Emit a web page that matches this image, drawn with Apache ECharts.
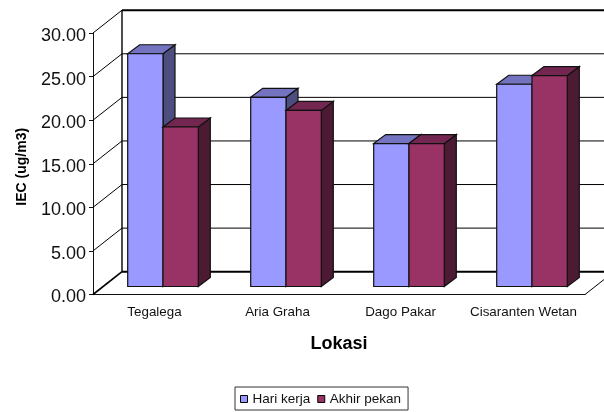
<!DOCTYPE html>
<html>
<head>
<meta charset="utf-8">
<style>
  html, body { margin: 0; padding: 0; background: #fff; }
  #chart { width: 604px; height: 412px; }
</style>
<script src="https://cdn.jsdelivr.net/npm/echarts@6/dist/echarts.min.js"></script>
</head>
<body>
<div id="chart"></div>
<script>
const categories = ['Tegalega', 'Aria Graha', 'Dago Pakar', 'Cisaranten Wetan'];
const hariKerja = [26.7, 21.7, 16.4, 23.2];
const akhirPekan = [18.3, 20.2, 16.4, 24.2];
const yTicks = [0, 5, 10, 15, 20, 25, 30];

const FONT = '"Liberation Sans", Arial, sans-serif';
// fake 3d: how far the back wall and the bars sit behind the axis plane
const WALL_DX = 29;
const WALL_DY = 22.8;
const BAR_DX = 8.5;
const BAR_DY = 8;
const BAR_W = 35.3;
const SIDE_DX = 12;
const SIDE_DY = 9;

const chart = echarts.init(document.getElementById('chart'));

const poly = (points, fill) => ({
  type: 'polygon',
  shape: { points },
  style: { fill, stroke: '#111', lineWidth: 1.2 },
});

const line = (x1, y1, x2, y2, width) => ({
  type: 'line',
  shape: { x1, y1, x2, y2 },
  style: { stroke: '#000', lineWidth: width },
});

const renderWall = (params, api) => {
  const v = api.value(1);
  const rect = params.coordSys;
  const y = api.coord([0, v])[1];
  const left = rect.x;
  const right = rect.x + rect.width;
  const children = [
    line(left, y, left + WALL_DX, y - WALL_DY, v === 0 ? 1.6 : 1),
    line(left + WALL_DX, y - WALL_DY, right + WALL_DX, y - WALL_DY, v === 0 || v === 30 ? 2 : 1),
  ];
  if (v === 0) {
    children.push(line(left + WALL_DX, y - WALL_DY, left + WALL_DX, rect.y - WALL_DY, 1.4));
    children.push(line(right, y, right + WALL_DX, y - WALL_DY, 1));
  }
  return { type: 'group', children };
};

const makeBars = (name, values, side, front, top, dark) => ({
  name,
  type: 'custom',
  clip: false,
  z: 3,
  itemStyle: { color: front },
  data: values.map((v, i) => [i, v]),
  encode: { x: 0, y: 1 },
  renderItem: (params, api) => {
    const c = api.coord([api.value(0), api.value(1)]);
    const b = api.coord([api.value(0), 0]);
    const x0 = c[0] + BAR_DX + (side < 0 ? -BAR_W : 0);
    const x1 = x0 + BAR_W;
    const y0 = c[1] - BAR_DY;
    const y1 = b[1] - BAR_DY;
    return {
      type: 'group',
      children: [
        poly([[x1, y0], [x1 + SIDE_DX, y0 - SIDE_DY], [x1 + SIDE_DX, y1 - SIDE_DY], [x1, y1]], dark),
        poly([[x0, y0], [x0 + SIDE_DX, y0 - SIDE_DY], [x1 + SIDE_DX, y0 - SIDE_DY], [x1, y0]], top),
        poly([[x0, y0], [x1, y0], [x1, y1], [x0, y1]], front),
      ],
    };
  },
});

chart.setOption({
  animation: false,
  tooltip: { show: false },
  legend: {
    data: ['Hari kerja', 'Akhir pekan'],
    left: 235,
    top: 387,
    orient: 'horizontal',
    icon: 'rect',
    itemWidth: 7,
    itemHeight: 7,
    itemGap: 7,
    padding: [5, 7, 4, 5],
    borderColor: '#333',
    borderWidth: 1,
    selectedMode: false,
    itemStyle: { borderColor: '#000', borderWidth: 1 },
    textStyle: { fontFamily: FONT, fontSize: 13.5, color: '#111', padding: [1, 0, 0, 0] },
  },
  grid: { left: 93, top: 33, width: 492, height: 261.5, containLabel: false },
  xAxis: {
    type: 'category',
    data: categories,
    name: 'Lokasi',
    nameLocation: 'middle',
    nameGap: 41,
    nameTextStyle: { fontFamily: FONT, fontSize: 18, fontWeight: 'bold', color: '#000' },
    axisLine: { lineStyle: { color: '#111', width: 1 } },
    axisTick: { alignWithLabel: false, length: 5, lineStyle: { color: '#111' } },
    axisLabel: { fontFamily: FONT, fontSize: 13.4, color: '#111', margin: 11, interval: 0 },
    splitLine: { show: false },
  },
  yAxis: {
    type: 'value',
    min: 0,
    max: 30,
    interval: 5,
    name: 'IEC (ug/m3)',
    nameLocation: 'middle',
    nameGap: 64,
    nameRotate: 90,
    nameTextStyle: { fontFamily: FONT, fontSize: 14, fontWeight: 'bold', color: '#000', padding: [0, 0, 0, -6] },
    axisLine: { show: true, lineStyle: { color: '#111', width: 1 } },
    axisTick: { show: true, length: 4, lineStyle: { color: '#111' } },
    axisLabel: {
      fontFamily: FONT,
      fontSize: 18,
      color: '#111',
      margin: 7,
      verticalAlign: 'top',
      lineHeight: 6,
      formatter: (v) => v.toFixed(2),
    },
    splitLine: { show: false },
  },
  series: [
    {
      type: 'custom',
      clip: false,
      silent: true,
      z: 1,
      data: yTicks.map((v) => [0, v]),
      encode: { x: 0, y: 1 },
      renderItem: renderWall,
    },
    makeBars('Hari kerja', hariKerja, -1, '#9999FF', '#7373BF', '#4D4D80'),
    makeBars('Akhir pekan', akhirPekan, 1, '#993366', '#732650', '#4D1A33'),
  ],
});
</script>
</body>
</html>
